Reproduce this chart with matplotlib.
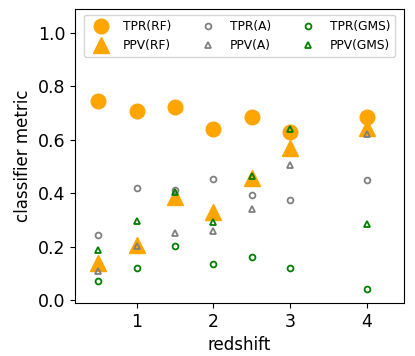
import matplotlib
matplotlib.use("Agg")
import matplotlib.pyplot as plt

redshift = [0.5, 1.0, 1.5, 2.0, 2.5, 3.0, 4.0]
tpr_rf = [0.744, 0.709, 0.722, 0.641, 0.685, 0.629, 0.687]
ppv_rf = [0.137, 0.206, 0.386, 0.330, 0.457, 0.570, 0.645]
tpr_a = [0.242, 0.420, 0.412, 0.452, 0.394, 0.374, 0.451]
ppv_a = [0.110, 0.204, 0.250, 0.259, 0.342, 0.507, 0.622]
tpr_gms = [0.071, 0.121, 0.201, 0.136, 0.162, 0.119, 0.040]
ppv_gms = [0.187, 0.294, 0.406, 0.291, 0.464, 0.640, 0.286]

fig = plt.figure(figsize=(4.15, 3.56), dpi=100)
ax = fig.add_axes([0.181, 0.149, 0.792, 0.826])

ax.plot(redshift, tpr_rf, 'o', color='orange', ms=10.5, label='TPR(RF)')
ax.plot(redshift, ppv_rf, '^', color='orange', ms=11.5, label='PPV(RF)')
ax.plot(redshift, tpr_a, 'o', mfc='none', mec='gray', mew=1.3, ms=4.2, label='TPR(A)')
ax.plot(redshift, ppv_a, '^', mfc='none', mec='gray', mew=1.3, ms=4.2, label='PPV(A)')
ax.plot(redshift, tpr_gms, 'o', mfc='none', mec='green', mew=1.3, ms=4.2, label='TPR(GMS)')
ax.plot(redshift, ppv_gms, '^', mfc='none', mec='green', mew=1.3, ms=4.2, label='PPV(GMS)')

ax.set_xlim(0.2, 4.48)
ax.set_ylim(-0.011, 1.09)
ax.set_xticks([1, 2, 3, 4])
ax.set_yticks([0.0, 0.2, 0.4, 0.6, 0.8, 1.0])
ax.tick_params(labelsize=12.5)
ax.set_xlabel('redshift', fontsize=12)
ax.set_ylabel('classifier metric', fontsize=12)
ax.legend(loc='upper center', ncol=3, fontsize=8.8)

fig.savefig('out.png', dpi=100)
